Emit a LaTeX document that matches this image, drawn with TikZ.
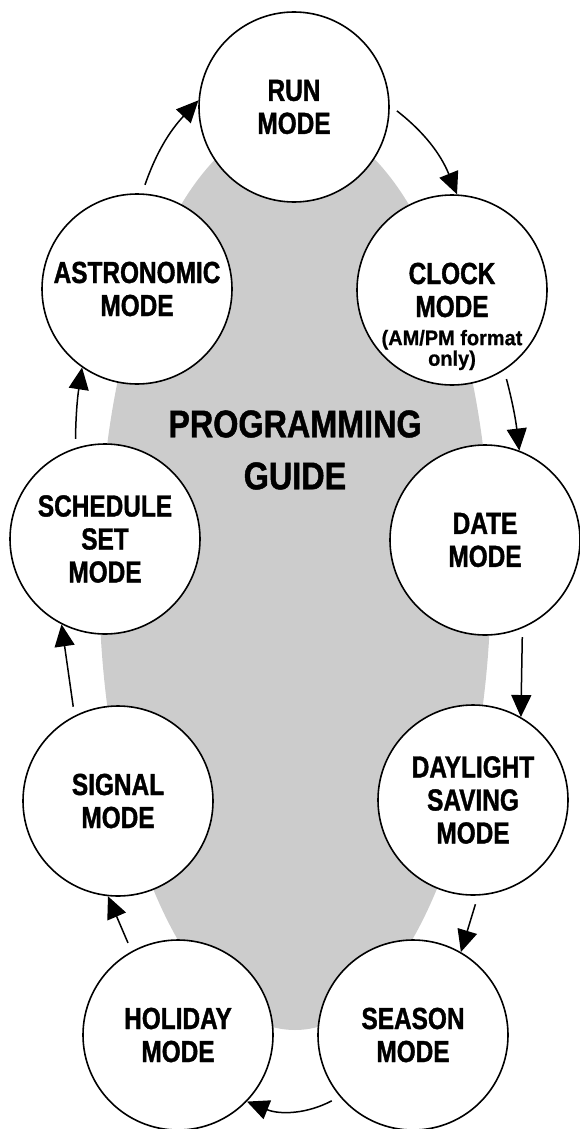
\documentclass[tikz,border=0pt]{standalone}
\usepackage{fontspec}
\setmainfont{Liberation Sans}[FakeStretch=0.8, BoldFeatures={FakeBold=1.2}]
\newfontfamily\guidefont{Liberation Sans}[FakeStretch=0.84, BoldFeatures={FakeBold=1.2}]
\newfontfamily\notefont{Liberation Sans}[FakeStretch=0.95, BoldFeatures={FakeBold=0.8}]
\usetikzlibrary{arrows.meta}
\definecolor{guidegrey}{gray}{0.8}

\begin{document}
\begin{tikzpicture}[x=1pt, y=-1pt,
        every node/.style={align=center, inner sep=0pt},
        mode/.style={circle, draw=black, line width=1.6pt, fill=white, minimum size=190pt,
            font=\bfseries\fontsize{30.5}{33}\selectfont},
        arrow/.style={-{Triangle[length=22pt, width=20pt]}, line width=1.5pt, shorten <=9pt}
    ]
        \useasboundingbox (0,0) rectangle (580,1129);

        % Background
        \fill[guidegrey] (295,575) ellipse [x radius=196, y radius=455];
        \node[font=\guidefont\bfseries\fontsize{38.5}{52}\selectfont] (guide) at (295,450) {PROGRAMMING\\GUIDE};

        % Right side
        \node[mode] (run) at (294,107) {RUN\\MODE};
        \node[mode] (clock) at (452,290) {CLOCK\\MODE};
        \node[font=\notefont\bfseries\fontsize{21}{16}\selectfont] (clocknote) at (452,350) {(AM/PM format\\only)};
        \node[mode] (date) at (485,540) {DATE\\MODE};
        \node[mode] (daylight) at (473,800) {DAYLIGHT\\SAVING\\MODE};
        \node[mode] (season) at (413,1035) {SEASON\\MODE};

        % Left side
        \node[mode] (holiday) at (178,1035) {HOLIDAY\\MODE};
        \node[mode] (signal) at (118,801) {SIGNAL\\MODE};
        \node[mode] (sched) at (105,539) {SCHEDULE\\SET\\MODE};
        \node[mode] (astro) at (137,289) {ASTRONOMIC\\MODE};

        % Cycle arrows
        \draw[arrow] (astro.87) to[bend left=12] (run.176);
        \draw[arrow] (run.1) to[bend left=15] (clock.87);
        \draw[arrow] (clock.-57) to[bend left=4] (date.69);
        \draw[arrow] (date.-67) -- (daylight.60);
        \draw[arrow] (daylight.-87) -- (season.60);
        \draw[arrow] (season.220) to[bend left=25] (holiday.-44);
        \draw[arrow] (holiday.119) -- (signal.264);
        \draw[arrow] (signal.117) -- (sched.243);
        \draw[arrow] (sched.108) to[bend left=4] (astro.235);
    \end{tikzpicture}
\end{document}
